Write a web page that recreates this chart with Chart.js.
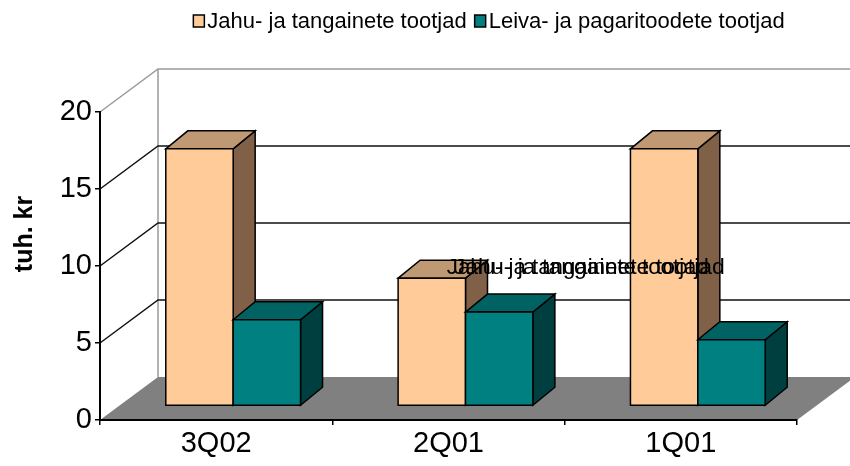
<!DOCTYPE html>
<html>
<head>
<meta charset="utf-8">
<script src="https://cdn.jsdelivr.net/npm/chart.js@4.4.1/dist/chart.umd.min.js"></script>
<style>
  html, body { margin: 0; padding: 0; background: #fff; }
  #wrap { width: 850px; height: 466px; position: relative; }
</style>
</head>
<body>
<div id="wrap"><canvas id="tootjad"></canvas></div>
<script>
const categories = ["3Q02", "2Q01", "1Q01"];
const seriesNames = ["Jahu- ja tangainete tootjad", "Leiva- ja pagaritoodete tootjad"];
const flourValues = [16.7, 8.3, 16.7];
const breadValues = [5.6, 6.1, 4.3];
const axisTitle = "tuh. kr";

const FONT = "'Liberation Sans', Arial, sans-serif";

// front, side and top shades for each series
const shades = [
  { front: "#FFCC99", top: "#BF9973", side: "#806147" },
  { front: "#008080", top: "#006262", side: "#003F3F" },
];

// oblique offsets: back wall, bar plane, bar depth
const wall = { dx: 58, dy: -43 };
const barPlane = { dx: 17, dy: -14 };
const barDepth = { dx: 22, dy: -18 };

function line(ctx, pts, color, width) {
  ctx.beginPath();
  ctx.moveTo(pts[0][0], pts[0][1]);
  for (let i = 1; i < pts.length; i++) ctx.lineTo(pts[i][0], pts[i][1]);
  ctx.strokeStyle = color;
  ctx.lineWidth = width;
  ctx.stroke();
}

function poly(ctx, pts, fill) {
  ctx.beginPath();
  ctx.moveTo(pts[0][0], pts[0][1]);
  for (let i = 1; i < pts.length; i++) ctx.lineTo(pts[i][0], pts[i][1]);
  ctx.closePath();
  ctx.fillStyle = fill;
  ctx.fill();
  ctx.strokeStyle = "#000";
  ctx.lineWidth = 1.5;
  ctx.stroke();
}

const walls3d = {
  id: "walls3d",
  beforeDraw(chart) {
    const { ctx, chartArea: a, scales } = chart;
    const y = scales.y;
    const W = chart.width;
    const bx = a.left + wall.dx;
    const yMax = y.getPixelForValue(y.max);
    ctx.save();
    // floor
    ctx.beginPath();
    ctx.moveTo(a.left, a.bottom);
    ctx.lineTo(bx, a.bottom + wall.dy);
    ctx.lineTo(W + 20, a.bottom + wall.dy);
    ctx.lineTo(a.right + wall.dx, a.bottom + wall.dy);
    ctx.lineTo(a.right, a.bottom);
    ctx.closePath();
    ctx.fillStyle = "#808080";
    ctx.fill();
    // back wall outline
    line(ctx, [[a.left, yMax], [bx, yMax + wall.dy], [W, yMax + wall.dy]], "#9a9a9a", 1.5);
    line(ctx, [[bx, yMax + wall.dy], [bx, a.bottom + wall.dy]], "#9a9a9a", 1.5);
    // gridlines across side and back wall
    y.ticks.forEach(t => {
      if (t.value <= y.min || t.value >= y.max) return;
      const py = y.getPixelForValue(t.value);
      line(ctx, [[a.left, py], [bx, py + wall.dy], [W, py + wall.dy]], "#111", 1.5);
    });
    ctx.restore();
  },
  beforeDatasetDraw() {
    return false;
  },
  afterDatasetsDraw(chart) {
    const { ctx } = chart;
    ctx.save();
    ctx.lineJoin = "miter";
    categories.forEach((c, i) => {
      chart.data.datasets.forEach((ds, d) => {
        const el = chart.getDatasetMeta(d).data[i];
        const p = el.getProps(["x", "y", "base", "width"], true);
        const x0 = p.x - p.width / 2 + barPlane.dx;
        const x1 = p.x + p.width / 2 + barPlane.dx;
        const yt = p.y + barPlane.dy;
        const yb = p.base + barPlane.dy;
        const s = shades[d];
        poly(ctx, [[x1, yt], [x1 + barDepth.dx, yt + barDepth.dy], [x1 + barDepth.dx, yb + barDepth.dy], [x1, yb]], s.side);
        poly(ctx, [[x0, yt], [x0 + barDepth.dx, yt + barDepth.dy], [x1 + barDepth.dx, yt + barDepth.dy], [x1, yt]], s.top);
        poly(ctx, [[x0, yt], [x1, yt], [x1, yb], [x0, yb]], s.front);
      });
    });
    // series name label over the 2Q01 bar, printed twice on top of itself
    const el = chart.getDatasetMeta(0).data[1];
    const lx = el.x + 32;
    const ly = el.y - 18;
    ctx.fillStyle = "#000";
    ctx.font = "22px " + FONT;
    ctx.textBaseline = "alphabetic";
    ctx.textAlign = "left";
    const w = ctx.measureText(seriesNames[0]).width;
    ctx.save();
    ctx.translate(lx, ly);
    ctx.scale(262 / w, 1);
    ctx.fillText(seriesNames[0], 0, 0);
    ctx.restore();
    ctx.save();
    ctx.translate(lx + 7, ly);
    ctx.scale(271 / w, 1);
    ctx.fillText(seriesNames[0], 0, 0);
    ctx.restore();
    ctx.restore();
  },
  afterDraw(chart) {
    const { ctx } = chart;
    ctx.save();
    // value axis title
    ctx.translate(25, 234);
    ctx.rotate(-Math.PI / 2);
    ctx.font = "bold 25px " + FONT;
    ctx.fillStyle = "#000";
    ctx.textAlign = "center";
    ctx.textBaseline = "middle";
    ctx.fillText(axisTitle, 0, 0);
    ctx.restore();

    // legend
    ctx.save();
    ctx.font = "22px " + FONT;
    ctx.textBaseline = "middle";
    ctx.textAlign = "left";
    const box = 11, gap = 3, itemGap = 8;
    const widths = chart.data.datasets.map(ds => ctx.measureText(ds.label).width);
    const total = widths.reduce((s, w) => s + w + box + gap, 0) + itemGap;
    let x = 489 - total / 2;
    const cy = 21;
    chart.data.datasets.forEach((ds, d) => {
      ctx.fillStyle = ds.backgroundColor;
      ctx.fillRect(x, cy - 6, box, 12);
      ctx.strokeStyle = "#000";
      ctx.lineWidth = 1.5;
      ctx.strokeRect(x, cy - 6, box, 12);
      ctx.fillStyle = "#000";
      ctx.fillText(ds.label, x + box + gap, cy + 1);
      x += box + gap + widths[d] + itemGap;
    });
    ctx.restore();
  },
};

new Chart(document.getElementById("tootjad"), {
  type: "bar",
  data: {
    labels: categories,
    datasets: [
      { label: seriesNames[0], data: flourValues, backgroundColor: shades[0].front },
      { label: seriesNames[1], data: breadValues, backgroundColor: shades[1].front },
    ],
  },
  options: {
    responsive: true,
    maintainAspectRatio: false,
    animation: false,
    layout: { padding: { top: 112, right: 53, left: 0, bottom: 0 } },
    datasets: { bar: { categoryPercentage: 0.58, barPercentage: 1 } },
    plugins: { legend: { display: false }, tooltip: { enabled: false } },
    scales: {
      x: {
        grid: { offset: true, drawOnChartArea: false, tickLength: 5, color: "#000", lineWidth: 1.5 },
        border: { color: "#000", width: 2 },
        ticks: { color: "#000", font: { family: FONT, size: 29 }, padding: 2 },
        afterFit: s => { s.height = 46; },
      },
      y: {
        min: 0,
        max: 20,
        ticks: { stepSize: 5, color: "#000", font: { family: FONT, size: 29 }, padding: 3 },
        grid: { drawOnChartArea: false, tickLength: 5, color: "#000", lineWidth: 1.5 },
        border: { color: "#000", width: 2 },
        afterFit: s => { s.width = 100; },
      },
    },
  },
  plugins: [walls3d],
});
</script>
</body>
</html>
